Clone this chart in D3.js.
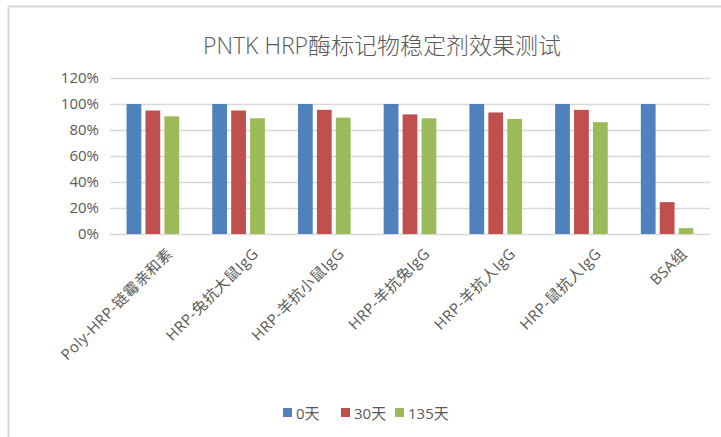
<!DOCTYPE html>
<html>
<head>
<meta charset="utf-8">
<script src="https://cdn.jsdelivr.net/npm/d3@7"></script>
<style>
  body { margin: 0; background: #fff; }
  text { font-family: "Open Sans", "Noto Sans CJK SC", sans-serif; fill: #595959; }
</style>
</head>
<body>
<div id="chart"></div>
<script>
// categories and series
const categories = ["Poly-HRP-链霉亲和素", "HRP-兔抗大鼠IgG", "HRP-羊抗小鼠IgG", "HRP-羊抗兔IgG", "HRP-羊抗人IgG", "HRP-鼠抗人IgG", "BSA组"];
const seriesNames = ["0天", "30天", "135天"];
const day0 = [1.00, 1.00, 1.00, 1.00, 1.00, 1.00, 1.00];
const day30 = [0.95, 0.95, 0.955, 0.92, 0.935, 0.955, 0.245];
const day135 = [0.905, 0.89, 0.895, 0.89, 0.885, 0.86, 0.045];
const yTicks = [0, 0.2, 0.4, 0.6, 0.8, 1.0, 1.2];
const colors = ["#4f81bd", "#c0504d", "#9bbb59"];

const W = 721, H = 437;
const margin = {top: 78, right: 11, bottom: 203, left: 110};
const width = W - margin.left - margin.right,
      height = H - margin.top - margin.bottom;

const svg = d3.select("#chart").append("svg")
  .attr("width", W).attr("height", H);

// frame edges visible in the screenshot
svg.append("line").attr("x1", 8).attr("x2", W).attr("y1", 6.5).attr("y2", 6.5)
  .attr("stroke", "#d9d9d9").attr("stroke-width", 2);
svg.append("line").attr("x1", 8.5).attr("x2", 8.5).attr("y1", 6).attr("y2", H)
  .attr("stroke", "#d9d9d9").attr("stroke-width", 2);

// title
svg.append("text")
  .attr("x", 382).attr("y", 54)
  .attr("text-anchor", "middle")
  .style("font-size", "23px")
  .style("font-weight", 300)
  .attr("fill", "#606060")
  .text("PNTK HRP酶标记物稳定剂效果测试");

const g = svg.append("g").attr("transform", `translate(${margin.left},${margin.top})`);

const x0 = d3.scaleBand().domain(categories).range([0, width]).paddingInner(0.386).paddingOuter(0.193);
const x1 = d3.scaleBand().domain(seriesNames).range([0, x0.bandwidth()]).paddingInner(0.22).paddingOuter(0);
const y = d3.scaleLinear().domain([0, 1.2]).range([height, 0]);

// gridlines
g.append("g")
  .selectAll("line").data(yTicks).join("line")
  .attr("x1", 0).attr("x2", width)
  .attr("y1", d => Math.round(y(d)) + 0.5).attr("y2", d => Math.round(y(d)) + 0.5)
  .attr("stroke", "#d9d9d9").attr("stroke-width", 1.3);

// y axis labels
const yAxis = g.append("g")
  .call(d3.axisLeft(y).tickValues(yTicks).tickFormat(d3.format(".0%")).tickSize(0).tickPadding(11));
yAxis.select(".domain").remove();
yAxis.selectAll("text").style("font-size", "15px").attr("fill", "#595959");

// bars
const data = categories.map((c, i) => ({cat: c, vals: [day0[i], day30[i], day135[i]]}));
const groups = g.selectAll(".grp").data(data).join("g")
  .attr("class", "grp")
  .attr("transform", d => `translate(${x0(d.cat)},0)`);
groups.selectAll("rect")
  .data(d => d.vals.map((v, j) => ({key: seriesNames[j], v: v, j: j})))
  .join("rect")
  .attr("x", d => x1(d.key))
  .attr("width", x1.bandwidth())
  .attr("y", d => y(d.v))
  .attr("height", d => y(0) - y(d.v))
  .attr("fill", d => colors[d.j]);

// x axis labels, rotated -45
const xAxis = g.append("g").attr("transform", `translate(0,${height})`)
  .call(d3.axisBottom(x0).tickSize(0).tickPadding(0));
xAxis.select(".domain").remove();
xAxis.selectAll("text")
  .style("font-size", "15px")
  .style("letter-spacing", "0.5px")
  .attr("fill", "#606060")
  .attr("text-anchor", "end")
  .attr("dy", "0.35em")
  .attr("transform", "translate(17,17) rotate(-45)");

// legend
const legend = svg.append("g");
const legendX = [283, 341, 395];
seriesNames.forEach((s, i) => {
  legend.append("rect")
    .attr("x", legendX[i]).attr("y", 408)
    .attr("width", 9).attr("height", 9)
    .attr("fill", colors[i]);
  legend.append("text")
    .attr("x", legendX[i] + 13).attr("y", 419)
    .style("font-size", "15px")
    .text(s);
});
</script>
</body>
</html>
